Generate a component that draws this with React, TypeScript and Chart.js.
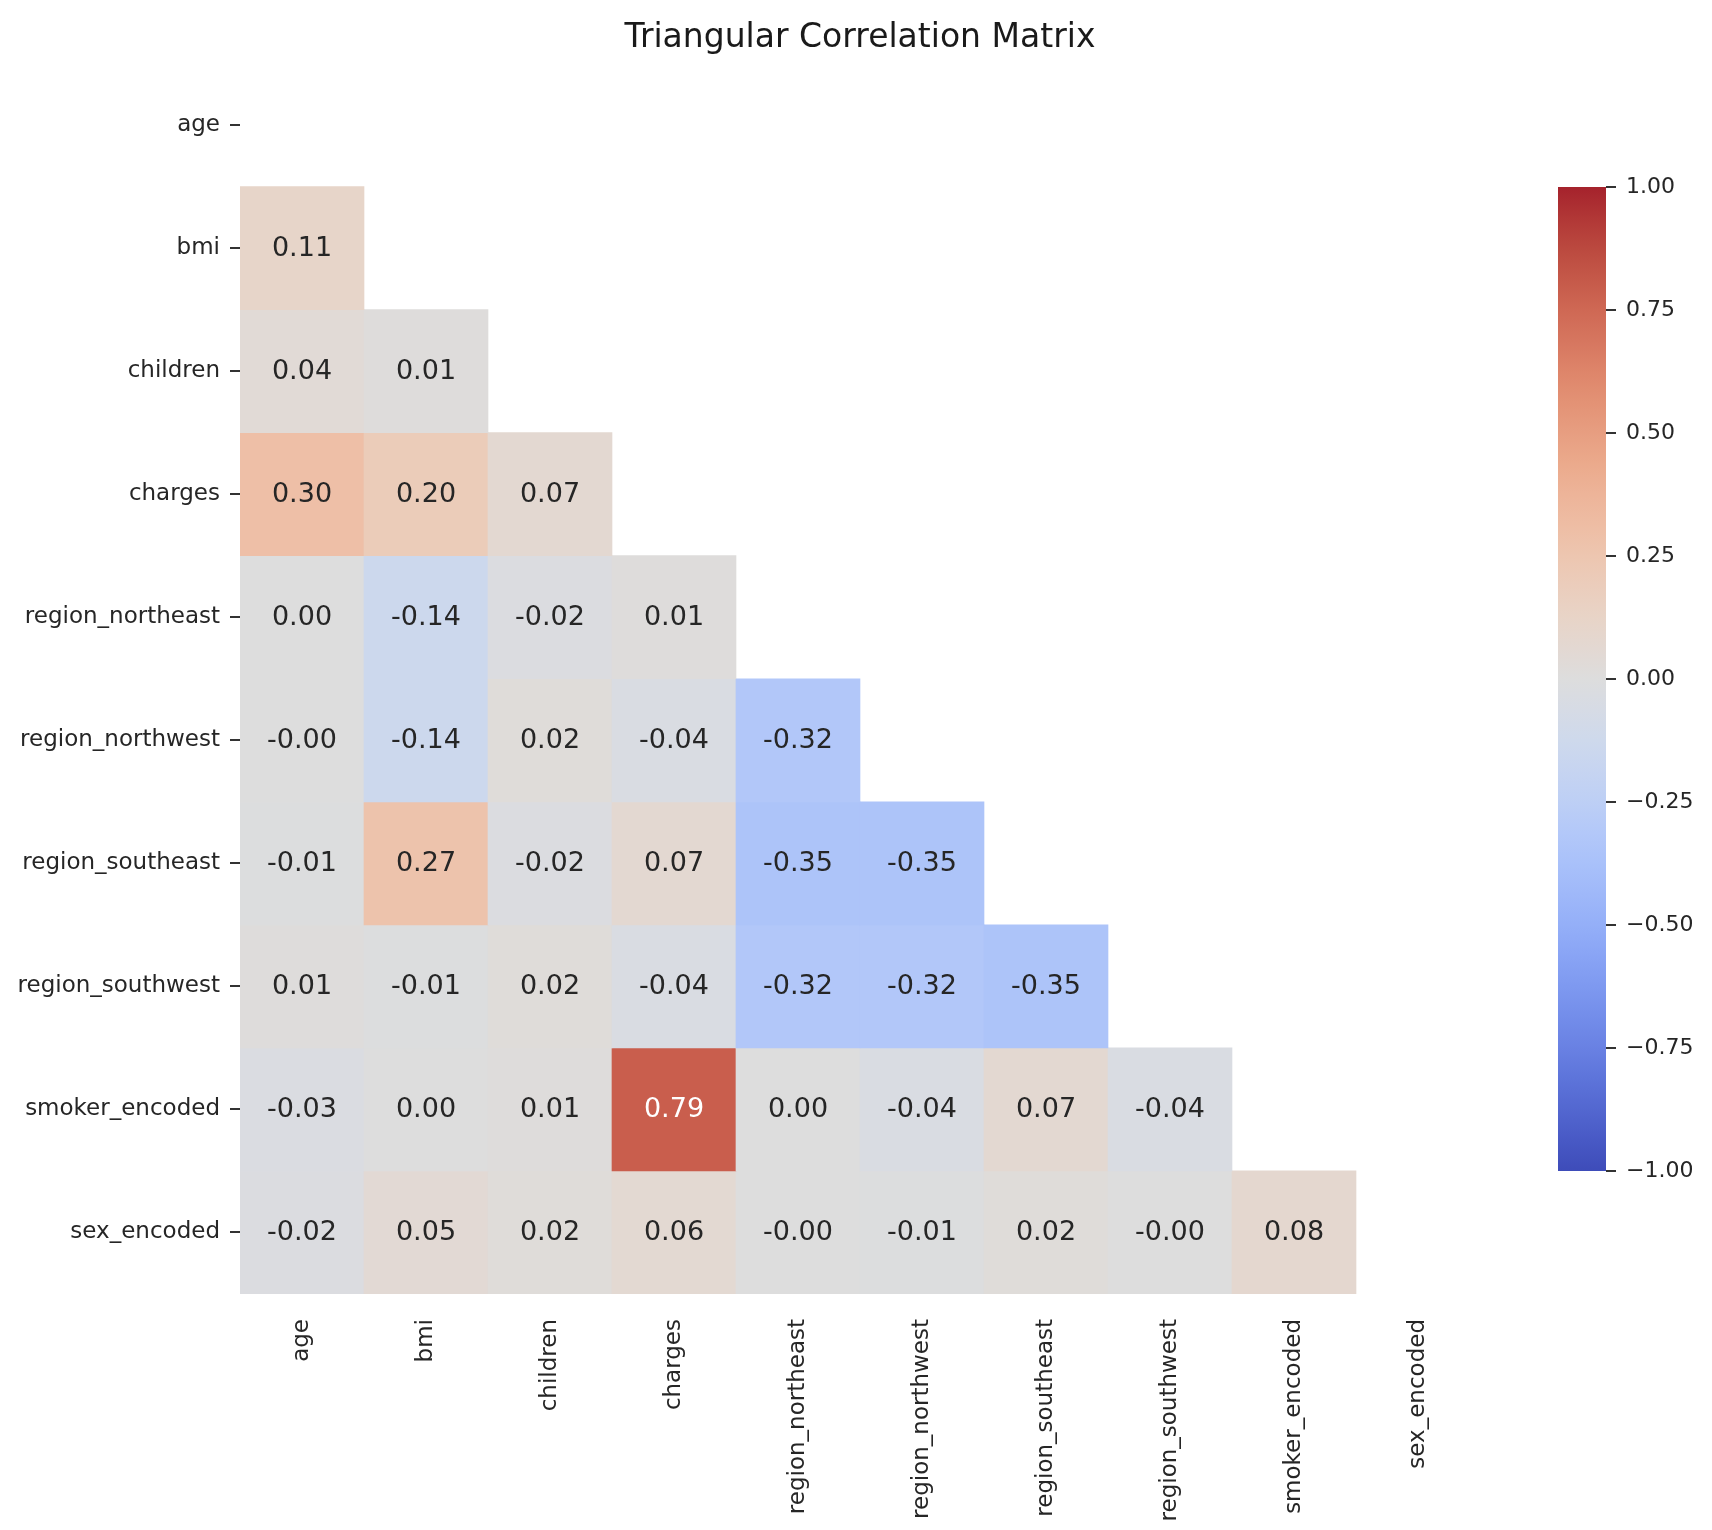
import React, { useEffect, useRef } from "react";
import { Chart, registerables } from "chart.js";

Chart.register(...registerables);

// ---- Data ----
const variables: string[] = [
  "age",
  "bmi",
  "children",
  "charges",
  "region_northeast",
  "region_northwest",
  "region_southeast",
  "region_southwest",
  "smoker_encoded",
  "sex_encoded",
];

// Lower triangle (diagonal masked); row i holds correlations with columns 0..i-1
const rowAge: number[] = [];
const rowBmi: number[] = [0.11];
const rowChildren: number[] = [0.04, 0.01];
const rowCharges: number[] = [0.3, 0.2, 0.07];
const rowRegionNE: number[] = [0.0, -0.14, -0.02, 0.01];
const rowRegionNW: number[] = [-0.001, -0.14, 0.02, -0.04, -0.32];
const rowRegionSE: number[] = [-0.01, 0.27, -0.02, 0.07, -0.35, -0.35];
const rowRegionSW: number[] = [0.01, -0.01, 0.02, -0.04, -0.32, -0.32, -0.35];
const rowSmoker: number[] = [-0.03, 0.0, 0.01, 0.79, 0.0, -0.04, 0.07, -0.04];
const rowSex: number[] = [-0.02, 0.05, 0.02, 0.06, -0.001, -0.01, 0.02, -0.001, 0.08];

const corrRows: number[][] = [
  rowAge,
  rowBmi,
  rowChildren,
  rowCharges,
  rowRegionNE,
  rowRegionNW,
  rowRegionSE,
  rowRegionSW,
  rowSmoker,
  rowSex,
];

const colorbarTicks: number[] = [-1, -0.75, -0.5, -0.25, 0, 0.25, 0.5, 0.75, 1];
const chartTitle = "Triangular Correlation Matrix";

// ---- coolwarm colormap (Moreland) ----
const coolwarmStops: number[][] = [
  [0.0, 59, 76, 192],
  [0.03125, 68, 90, 204],
  [0.0625, 77, 104, 215],
  [0.09375, 87, 117, 225],
  [0.125, 98, 130, 234],
  [0.15625, 108, 142, 241],
  [0.1875, 119, 154, 247],
  [0.21875, 130, 165, 251],
  [0.25, 141, 176, 254],
  [0.28125, 152, 185, 255],
  [0.3125, 163, 194, 255],
  [0.34375, 174, 201, 253],
  [0.375, 184, 208, 249],
  [0.40625, 194, 213, 244],
  [0.4375, 204, 217, 238],
  [0.46875, 213, 219, 230],
  [0.5, 221, 221, 221],
  [0.53125, 229, 216, 209],
  [0.5625, 236, 211, 197],
  [0.59375, 241, 204, 185],
  [0.625, 245, 196, 173],
  [0.65625, 247, 187, 160],
  [0.6875, 247, 177, 148],
  [0.71875, 247, 166, 135],
  [0.75, 244, 154, 123],
  [0.78125, 241, 141, 111],
  [0.8125, 236, 127, 99],
  [0.84375, 229, 112, 88],
  [0.875, 222, 96, 77],
  [0.90625, 213, 80, 66],
  [0.9375, 203, 62, 56],
  [0.96875, 192, 40, 47],
  [1.0, 180, 4, 38],
];

// Slightly muted display rendition (matches the reference's rendering of colours)
function displayRGB(rgb: number[]): number[] {
  const lin = rgb.map((x) => {
    const y = x / 255;
    return y <= 0.04045 ? y / 12.92 : Math.pow((y + 0.055) / 1.055, 2.4);
  });
  const r = 0.8225 * lin[0] + 0.1774 * lin[1];
  const g = 0.0332 * lin[0] + 0.9669 * lin[1];
  const b = 0.0171 * lin[0] + 0.0724 * lin[1] + 0.9108 * lin[2];
  return [r, g, b].map((y) => {
    const v = y <= 0.0031308 ? 12.92 * y : 1.055 * Math.pow(y, 1 / 2.4) - 0.055;
    return Math.max(0, Math.min(255, v * 255));
  });
}

function coolwarmRaw(v: number): number[] {
  const s = Math.max(0, Math.min(1, (v + 1) / 2));
  for (let k = 1; k < coolwarmStops.length; k++) {
    const a = coolwarmStops[k - 1];
    const b = coolwarmStops[k];
    if (s <= b[0]) {
      const t = (s - a[0]) / (b[0] - a[0]);
      return [
        a[1] + (b[1] - a[1]) * t,
        a[2] + (b[2] - a[2]) * t,
        a[3] + (b[3] - a[3]) * t,
      ];
    }
  }
  const l = coolwarmStops[coolwarmStops.length - 1];
  return [l[1], l[2], l[3]];
}

function rgbStr(c: number[]): string {
  return `rgb(${Math.round(c[0])},${Math.round(c[1])},${Math.round(c[2])})`;
}

function coolwarm(v: number): string {
  return rgbStr(displayRGB(coolwarmRaw(v)));
}

function luminance(v: number): number {
  const c = coolwarmRaw(v).map((x) => {
    const y = x / 255;
    return y <= 0.03928 ? y / 12.92 : Math.pow((y + 0.055) / 1.055, 2.4);
  });
  return 0.2126 * c[0] + 0.7152 * c[1] + 0.0722 * c[2];
}

const FONT = "'DejaVu Sans', 'Liberation Sans', sans-serif";
const TEXT = "#262626";

const annotationPlugin = {
  id: "cellAnnotations",
  afterDatasetsDraw(chart: any) {
    const ctx = chart.ctx;
    const xs = chart.scales.x;
    const ys = chart.scales.y;
    ctx.save();
    ctx.font = `27px ${FONT}`;
    ctx.textAlign = "center";
    ctx.textBaseline = "middle";
    corrRows.forEach((row, i) => {
      row.forEach((v, j) => {
        const x = xs.getPixelForValue(j);
        const y = ys.getPixelForValue(i);
        ctx.fillStyle = luminance(v) > 0.408 ? TEXT : "#ffffff";
        ctx.fillText(v.toFixed(2), x, y + 1);
      });
    });
    // title
    const area = chart.chartArea;
    ctx.font = `33px ${FONT}`;
    ctx.fillStyle = "#1a1a1a";
    ctx.textBaseline = "alphabetic";
    ctx.fillText(chartTitle, (area.left + area.right) / 2, 47);
    ctx.restore();
  },
};

export default function App() {
  const mainRef = useRef<HTMLCanvasElement | null>(null);
  const cbRef = useRef<HTMLCanvasElement | null>(null);

  useEffect(() => {
    if (!mainRef.current || !cbRef.current) return;

    const datasets = corrRows.map((row, i) => ({
      label: variables[i],
      data: variables.map((_, j) => (j < row.length ? [i - 0.5, i + 0.5] : null)),
      backgroundColor: variables.map((_, j) =>
        j < row.length ? coolwarm(row[j]) : "rgba(0,0,0,0)"
      ),
      borderWidth: 0,
      grouped: false,
      barPercentage: 1,
      categoryPercentage: 1,
    }));

    const main = new Chart(mainRef.current, {
      type: "bar",
      data: { labels: variables, datasets: datasets as any },
      options: {
        responsive: false,
        animation: false,
        events: [],
        layout: { padding: { top: 63.5, right: 232, bottom: 0, left: 0 } },
        plugins: {
          legend: { display: false },
          tooltip: { enabled: false },
          title: { display: false },
        },
        scales: {
          x: {
            type: "category",
            offset: true,
            grid: { display: false, drawTicks: false },
            border: { display: false },
            ticks: {
              autoSkip: false,
              minRotation: 90,
              maxRotation: 90,
              padding: 25,
              color: TEXT,
              font: { family: FONT, size: 23 },
            },
            afterFit: (s: any) => {
              s.height = 236;
            },
          },
          y: {
            type: "linear",
            reverse: true,
            min: -0.5,
            max: 9.5,
            afterBuildTicks: (s: any) => {
              s.ticks = variables.map((_, i) => ({ value: i }));
            },
            ticks: {
              autoSkip: false,
              padding: 10,
              color: TEXT,
              font: { family: FONT, size: 23 },
              callback: (v: any) => variables[Math.round(Number(v))],
            },
            grid: {
              drawOnChartArea: false,
              drawTicks: true,
              tickLength: 10,
              color: "#333333",
              lineWidth: 2,
            },
            border: { display: false },
            afterFit: (s: any) => {
              s.width = 240;
            },
          },
        },
      } as any,
      plugins: [annotationPlugin],
    });

    const cb = new Chart(cbRef.current, {
      type: "bar",
      data: {
        labels: ["colorbar"],
        datasets: [
          {
            data: [[-1, 1]] as any,
            borderWidth: 0,
            barPercentage: 1,
            categoryPercentage: 1,
            backgroundColor: (c: any) => {
              const chart = c.chart;
              const ys = chart.scales.y;
              if (!ys || !chart.chartArea) return coolwarm(0);
              const g = chart.ctx.createLinearGradient(
                0,
                ys.getPixelForValue(-1),
                0,
                ys.getPixelForValue(1)
              );
              coolwarmStops.forEach(([s, r, gg, b]) =>
                g.addColorStop(s, rgbStr(displayRGB([r, gg, b])))
              );
              return g;
            },
          },
        ],
      },
      options: {
        responsive: false,
        animation: false,
        events: [],
        layout: { padding: { top: 37, bottom: 59, left: 0, right: 0 } },
        plugins: {
          legend: { display: false },
          tooltip: { enabled: false },
          title: { display: false },
        },
        scales: {
          x: { display: false, offset: true },
          y: {
            position: "right",
            min: -1,
            max: 1,
            afterBuildTicks: (s: any) => {
              s.ticks = colorbarTicks.map((v) => ({ value: v }));
            },
            ticks: {
              padding: 10,
              color: TEXT,
              font: { family: FONT, size: 22 },
              callback: (v: any) => Number(v).toFixed(2).replace("-", "\u2212"),
            },
            grid: {
              drawOnChartArea: false,
              drawTicks: true,
              tickLength: 10,
              color: "#333333",
              lineWidth: 2,
            },
            border: { display: false },
            afterFit: (s: any) => {
              s.width = 106;
            },
          },
        },
      } as any,
    });

    return () => {
      main.destroy();
      cb.destroy();
    };
  }, []);

  return (
    <div
      style={{
        position: "absolute",
        left: 0,
        top: 0,
        width: 1712,
        height: 1530,
        background: "#ffffff",
        overflow: "hidden",
      }}
    >
      <canvas
        ref={mainRef}
        width={1712}
        height={1530}
        style={{ position: "absolute", left: 0, top: 0, width: 1712, height: 1530 }}
      />
      <canvas
        ref={cbRef}
        width={154}
        height={1080}
        style={{ position: "absolute", left: 1558, top: 150, width: 154, height: 1080 }}
      />
    </div>
  );
}
